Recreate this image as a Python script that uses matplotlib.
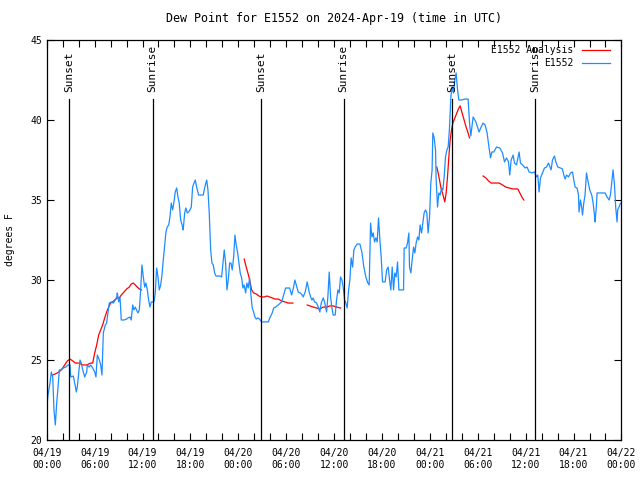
import numpy as np
import matplotlib
matplotlib.use("Agg")
import matplotlib.pyplot as plt

# hours since 2024-04-19 00:00 UTC
blue_hours = [0, 0.16, 0.41, 0.58, 0.75, 0.91, 1.08, 1.25, 1.42, 1.58, 1.83, 2.08, 2.38, 2.67, 2.92,
              3.01, 3.33, 3.51, 3.71, 3.83, 4.01, 4.17, 4.33, 4.51, 4.76, 5.01, 5.08, 5.33, 5.51, 5.76,
              6.01, 6.17, 6.34, 6.59, 6.76, 6.92, 7.09, 7.34, 7.51, 7.68, 7.84, 8.09, 8.34, 8.59, 8.77,
              8.84, 9.02, 9.18, 9.34, 9.68, 10.02, 10.18, 10.43, 10.59, 10.77, 10.93, 11.09, 11.43, 11.60,
              11.77, 11.93, 12.10, 12.27, 12.43, 12.60, 12.77, 12.94, 13.10, 13.44, 13.60, 13.77, 13.94,
              14.10, 14.28, 14.44, 14.60, 14.78, 14.94, 15.10, 15.28, 15.44, 15.60, 15.78, 15.94, 16.10,
              16.28, 16.44, 16.60, 16.78, 17.03, 17.10, 17.28, 17.44, 17.61, 17.78, 17.94, 18.11, 18.28,
              18.45, 18.61, 18.78, 19.03, 19.28, 19.61, 19.78, 19.95, 20.04, 20.20, 20.36, 20.54, 20.70,
              20.86, 21.04, 21.20, 21.70, 21.91, 22.08, 22.24, 22.41, 22.58, 22.74, 22.92, 23.08, 23.24,
              23.42, 23.58, 23.74, 23.92, 24.08, 24.24, 24.42, 24.58, 24.74, 24.92, 25.08, 25.24, 25.42,
              25.58, 25.75, 25.92, 26.08, 26.25, 26.42, 26.67, 26.92, 27.17, 27.75, 28.00, 28.25, 28.43,
              28.68, 29.00, 29.43, 29.93, 30.43, 30.68, 30.93, 31.09, 31.34, 31.51, 31.76, 32.01, 32.13,
              32.38, 32.63, 32.88, 33.06, 33.22, 33.38, 33.56, 33.81, 34.06, 34.22, 34.39, 34.64, 34.81,
              35.06, 35.22, 35.39, 35.56, 35.73, 35.89, 36.14, 36.31, 36.48, 36.64, 36.81, 36.98, 37.14,
              37.32, 37.48, 37.64, 37.82, 37.98, 38.14, 38.32, 38.48, 38.64, 38.89, 39.23, 39.48, 39.73,
              39.98, 40.23, 40.40, 40.57, 40.74, 40.90, 41.07, 41.24, 41.40, 41.57, 41.74, 41.90, 42.07,
              42.40, 42.58, 42.78, 42.95, 43.11, 43.28, 43.45, 43.61, 43.78, 43.95, 44.12, 44.70, 44.78,
              45.03, 45.20, 45.37, 45.45, 45.62, 45.78, 45.96, 46.12, 46.28, 46.46, 46.62, 46.78, 46.96,
              47.12, 47.28, 47.46, 47.62, 47.78, 47.96, 48.12, 48.28, 48.37, 48.54, 48.71, 48.79, 48.96,
              49.12, 49.29, 49.46, 49.63, 49.79, 49.96, 50.13, 50.29, 50.46, 50.63, 50.79, 50.96, 51.13,
              51.29, 51.47, 51.63, 51.97, 52.38, 52.79, 52.97, 53.13, 53.42, 53.76, 54.17, 54.42, 54.67,
              54.92, 55.17, 55.42, 55.60, 55.76, 56.01, 56.35, 56.76, 57.10, 57.35, 57.60, 57.85, 58.01,
              58.18, 58.43, 58.60, 58.85, 59.18, 59.35, 59.61, 59.93, 60.18, 60.43, 60.77, 61.11, 61.36,
              61.52, 61.68, 61.86, 62.11, 62.36, 62.61, 62.86, 63.19, 63.36, 63.61, 63.78, 64.03, 64.36,
              64.61, 64.78, 64.94, 65.12, 65.37, 65.62, 65.87, 66.03, 66.19, 66.44, 66.62, 66.69, 66.87,
              67.03, 67.12, 67.28, 67.44, 67.62, 67.78, 68.03, 68.28, 68.45, 68.62, 68.70, 68.87, 68.95,
              69.28, 69.95, 70.20, 70.45, 70.62, 70.79, 70.95, 71.13, 71.28, 71.45, 71.53, 71.70, 71.88]
blue_vals = [22.0, 22.81, 23.56, 24.25, 23.94, 21.88, 20.94, 22.31, 23.31, 24.38, 24.38, 24.5, 24.56, 24.69, 24.69,
             23.94, 24.0, 23.56, 23.0, 23.31, 24.19, 25.0, 24.81, 24.38, 23.94, 24.25, 24.69, 24.56, 24.69, 24.5,
             24.25, 23.94, 25.31, 25.0, 24.69, 24.06, 26.69, 27.19, 27.31, 28.0, 28.56, 28.63, 28.56, 28.75, 28.94,
             29.19, 28.63, 28.94, 27.5, 27.5, 27.56, 27.63, 27.69, 27.5, 28.44, 28.13, 28.31, 27.94, 28.13,
             29.38, 30.94, 30.19, 29.56, 29.81, 29.38, 28.75, 28.31, 28.63, 28.63, 29.19, 30.75, 30.19,
             29.38, 29.69, 30.31, 31.25, 32.19, 33.0, 33.31, 33.44, 33.94, 34.81, 34.38, 34.88, 35.5,
             35.75, 35.19, 34.81, 33.75, 33.31, 33.13, 34.19, 34.5, 34.19, 34.25, 34.38, 34.56, 35.81,
             36.06, 36.25, 35.81, 35.31, 35.31, 35.31, 35.75, 36.06, 36.25, 35.63, 34.19, 31.88, 31.06,
             30.94, 30.44, 30.25, 30.25, 30.19, 31.06, 31.88, 31.06, 29.38, 30.0, 31.06, 31.06, 30.63,
             31.44, 32.81, 32.19, 31.69, 31.06, 30.44, 30.13, 29.5, 29.69, 29.19, 29.81, 29.5, 30.13,
             29.06, 28.25, 28.0, 27.69, 27.56, 27.63, 27.56, 27.38, 27.38, 27.38, 27.69, 27.94, 28.25,
             28.31, 28.44, 28.63, 29.5, 29.5, 29.06, 29.56, 30.0, 29.56, 29.25, 29.19, 29.06, 28.94,
             29.25, 29.88, 29.25, 28.94, 28.75, 28.88, 28.63, 28.56, 28.25, 28.0, 28.56, 28.88, 28.63,
             28.0, 28.94, 30.5, 28.94, 28.25, 27.81, 27.81, 28.75, 29.38, 29.19, 30.19, 30.0, 29.56,
             28.75, 28.56, 28.25, 29.38, 30.0, 31.38, 30.81, 31.88, 32.06, 32.25, 32.25, 31.75, 30.81,
             30.19, 29.81, 29.69, 33.56, 32.69, 32.94, 32.38, 32.63, 32.38, 33.88, 32.5, 31.44, 29.88,
             29.88, 30.63, 30.81, 30.0, 29.38, 30.81, 29.38, 30.44, 30.19, 31.13, 29.38, 29.38, 32.0,
             32.0, 32.31, 32.94, 30.81, 30.44, 31.25, 32.06, 31.69, 32.31, 32.69, 32.5, 33.44, 32.94,
             33.56, 34.19, 34.38, 34.19, 32.94, 33.94, 36.06, 36.88, 39.19, 38.88, 38.13, 36.25, 34.56,
             35.44, 35.31, 35.75, 35.63, 36.44, 37.69, 38.13, 38.31, 39.5, 41.44, 42.06, 41.69, 42.5,
             42.94, 41.88, 41.25, 41.25, 41.31, 41.31, 39.81, 39.0, 40.19, 39.88, 39.25, 39.56, 39.81,
             39.69, 39.19, 38.25, 37.63, 38.0, 38.0, 38.31, 38.25, 37.94, 37.38, 37.63, 37.38, 36.56,
             37.5, 37.81, 37.31, 37.19, 38.0, 37.31, 37.19, 37.0, 37.06, 36.75, 36.69, 36.75, 36.44,
             36.56, 35.5, 36.38, 36.69, 37.0, 37.06, 37.31, 36.88, 37.5, 37.75, 37.38, 37.06, 37.0,
             36.94, 36.56, 36.31, 36.56, 36.44, 36.69, 36.75, 36.25, 35.81, 35.75, 35.31, 34.25, 35.0,
             34.5, 34.06, 34.81, 35.31, 36.69, 36.25, 35.63, 35.31, 34.81, 34.06, 33.63, 34.69, 35.44,
             35.44, 35.44, 35.19, 35.0, 35.31, 36.13, 36.88, 35.94, 34.56, 33.63, 34.38, 34.56, 34.8]

# analysis series, NaN marks the gaps between runs
red_hours = [0.75, 1.33, 1.67, 2.0, 2.25, 2.58, 2.92, 3.26, 3.58, 4.01, 4.51, 5.01, 5.51, 5.76, 6.01,
             6.26, 6.51, 6.76, 7.01, 7.26, 7.51, 7.76, 8.01, 8.26, 8.51, 8.84, 9.09, 9.34, 9.68, 10.02,
             10.34, 10.59, 10.84, 11.09, 11.34, 11.60, 11.85, 18.0,
             24.74, 24.99, 25.17, 25.33, 25.50, 25.67, 25.92, 26.25, 26.58, 26.92, 27.25, 27.59, 27.92,
             28.25, 28.59, 29.0, 29.43, 29.84, 30.25, 30.84, 31.5,
             32.63, 32.97, 33.38, 33.81, 34.22, 34.64, 35.06, 35.48, 35.89, 36.31, 36.81, 42.0,
             48.87, 49.04, 49.21, 49.37, 49.54, 49.71, 49.87, 50.04, 50.21, 50.38, 50.54, 50.71, 50.88,
             51.13, 51.38, 51.63, 51.79, 52.04, 52.29, 52.54, 52.79, 52.97, 54.0,
             54.67, 55.01, 55.35, 55.67, 56.17, 56.68, 57.10, 57.51, 57.93, 58.43, 59.02, 59.27, 59.52, 59.77]
red_vals = [24.06, 24.19, 24.31, 24.5, 24.69, 24.94, 25.06, 24.94, 24.81, 24.81, 24.69, 24.69, 24.81, 24.81, 25.44,
            25.94, 26.56, 26.88, 27.19, 27.63, 28.0, 28.31, 28.56, 28.63, 28.75, 28.88, 28.88, 29.06, 29.25, 29.44,
            29.56, 29.75, 29.81, 29.69, 29.56, 29.44, 29.38, np.nan,
            31.31, 30.81, 30.5, 30.19, 29.81, 29.38, 29.19, 29.13, 29.0, 28.94, 28.94, 29.0, 28.94,
            28.88, 28.81, 28.81, 28.69, 28.63, 28.56, 28.56, np.nan,
            28.44, 28.38, 28.31, 28.25, 28.19, 28.31, 28.31, 28.38, 28.38, 28.31, 28.25, np.nan,
            37.06, 36.69, 36.25, 35.81, 35.5, 35.19, 34.88, 35.44, 36.44, 37.69, 38.75, 39.38, 39.81,
            40.13, 40.44, 40.75, 40.88, 40.44, 40.0, 39.56, 39.19, 38.88, np.nan,
            36.5, 36.38, 36.19, 36.06, 36.06, 36.06, 35.94, 35.81, 35.75, 35.69, 35.69, 35.44, 35.19, 35.0]

sun_hours = [2.83, 13.27, 26.87, 37.19, 50.79, 61.18]
sun_labels = ['Sunset', 'Sunrise', 'Sunset', 'Sunrise', 'Sunset', 'Sunrise']

tick_hours = list(range(0, 73, 6))
tick_labels = ['04/19\n00:00', '04/19\n06:00', '04/19\n12:00', '04/19\n18:00',
               '04/20\n00:00', '04/20\n06:00', '04/20\n12:00', '04/20\n18:00',
               '04/21\n00:00', '04/21\n06:00', '04/21\n12:00', '04/21\n18:00',
               '04/22\n00:00']

plt.rcParams['font.family'] = 'DejaVu Sans Mono'
plt.rcParams['font.size'] = 7

fig = plt.figure(figsize=(6.4, 4.8), dpi=100)
ax = fig.add_axes([0.073, 0.0833, 0.898, 0.8334])

ax.plot(red_hours, red_vals, color='#ff0000', lw=0.9)
ax.plot(blue_hours, blue_vals, color='#1e8cff', lw=0.9)

for h, lab in zip(sun_hours, sun_labels):
    ax.plot([h, h], [20, 41.3], color='black', lw=0.9)
    ax.text(h, 41.75, lab, rotation=90, ha='center', va='bottom', fontsize=8)

ax.set_xlim(0, 72)
ax.set_ylim(20, 45)
ax.set_xticks(tick_hours)
ax.set_xticklabels(tick_labels)
ax.set_xticks(range(0, 73, 2), minor=True)
ax.set_yticks([20, 25, 30, 35, 40, 45])
ax.tick_params(which='both', direction='in', length=5, top=True, right=True, width=0.8)
ax.tick_params(axis='x', pad=6)
for s in ax.spines.values():
    s.set_linewidth(0.9)

ax.set_ylabel('degrees F')
ax.yaxis.set_label_coords(-0.056, 0.5)
ax.set_title('Dew Point for E1552 on 2024-Apr-19 (time in UTC)', pad=13)

# key, gnuplot style: right-justified text, sample line on the right
keys = [('E1552 Analysis', '#ff0000'), ('E1552', '#1e8cff')]
for i, (name, col) in enumerate(keys):
    yk = 0.975 - i * 0.0325
    ax.text(0.917, yk, name, transform=ax.transAxes, ha='right', va='center')
    ax.plot([0.931, 0.980], [yk, yk], transform=ax.transAxes, color=col, lw=0.9)

fig.savefig('out.png', dpi=100)
